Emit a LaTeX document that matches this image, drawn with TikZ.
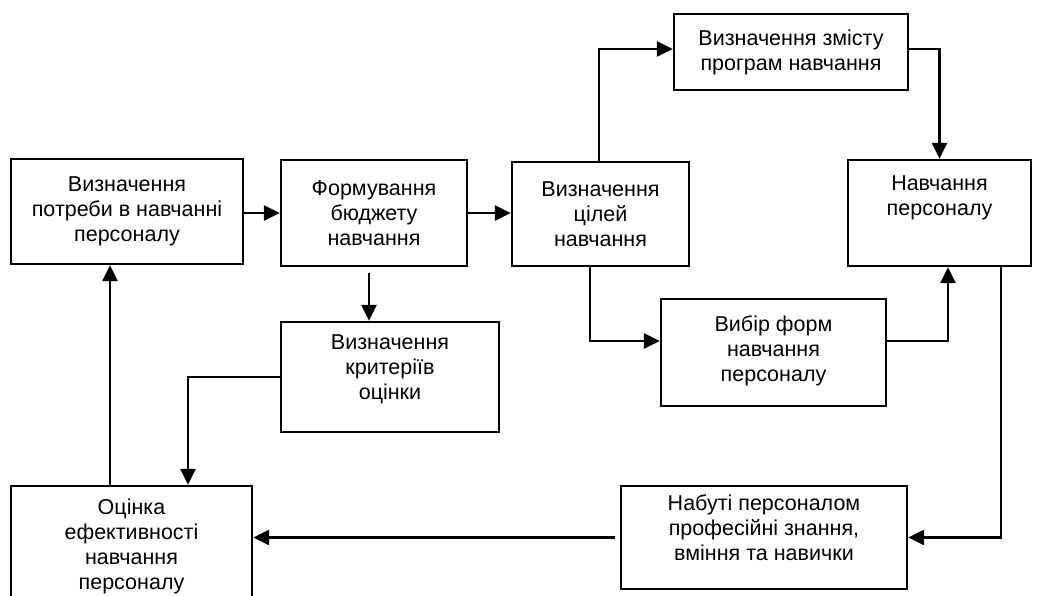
\documentclass[tikz,border=0pt]{standalone}
\usepackage{fontspec}
\setmainfont{Liberation Sans}
\usetikzlibrary{arrows.meta,calc}
\begin{document}
\begin{tikzpicture}[x=1pt,y=-1pt,
  box/.style={draw,line width=2.3pt,rectangle,inner sep=0pt,align=center,font=\fontsize{21.5}{25}\selectfont},
  conn/.style={line width=2.3pt,-{Triangle[length=16pt,width=15pt]}}]
\clip (0,0) rectangle (1050,596);
\fill[white] (0,0) rectangle (1050,596);
\node[box,minimum width=232pt,minimum height=105pt] (A) at (127,211.5) {Визначення\\потреби в навчанні\\персоналу};
\node[box,minimum width=186pt,minimum height=106pt] (B) at (374,213) {Формування\\бюджету\\навчання};
\node[box,minimum width=177pt,minimum height=104pt] (C) at (600.5,214) {Визначення\\цілей\\навчання};
\node[box,minimum width=234pt,minimum height=76pt] (D) at (791,52) {Визначення змісту\\програм навчання};
\node[box,minimum width=183pt,minimum height=106pt] (E) at (939.5,213) {Навчання\\персоналу\\[10pt]\mbox{}};
\node[box,minimum width=218pt,minimum height=110pt] (F) at (390,377) {Визначення\\критеріїв\\оцінки\\[-6pt]\mbox{}};
\node[box,minimum width=225pt,minimum height=107pt] (I) at (773.5,352.5) {Вибір форм\\навчання\\персоналу\\[-17pt]\mbox{}};
\node[box,minimum width=241pt,minimum height=120pt] (G) at (131.5,546) {Оцінка\\ефективності\\навчання\\персоналу};
\node[box,minimum width=286pt,minimum height=103pt] (H) at (764,537.5) {Набуті персоналом\\професійні знання,\\вміння та навички\\[-6pt]\mbox{}};
% connectors
\draw[conn] (A.east |- B.west) -- (B.west);
\draw[conn] (B.east) -- (B.east -| C.west);
\draw[conn] ([xshift=-1.5pt]C.north) |- ([yshift=3pt]D.west);
\draw[conn] ([yshift=3pt]D.east) -| (E.north);
\draw[conn,shorten <=6pt] ([xshift=-5pt]B.south) -- ([xshift=-5pt]B.south |- F.north);
\draw[conn] (F.west) -| ([xshift=56.5pt]G.north);
\draw[conn] ([xshift=-21.5pt]G.north) -- ([xshift=-21.5pt]G.north |- A.south);
\draw[conn] ([xshift=-10.5pt]C.south) |- ([yshift=11.5pt]I.west);
\draw[conn] ([yshift=11.5pt]I.east) -| ([xshift=8.5pt]E.south);
\draw[conn] ([xshift=61.5pt]E.south) |- (H.east);
\draw[conn,shorten <=5pt] (H.west) -- (H.west -| G.east);
\end{tikzpicture}
\end{document}
